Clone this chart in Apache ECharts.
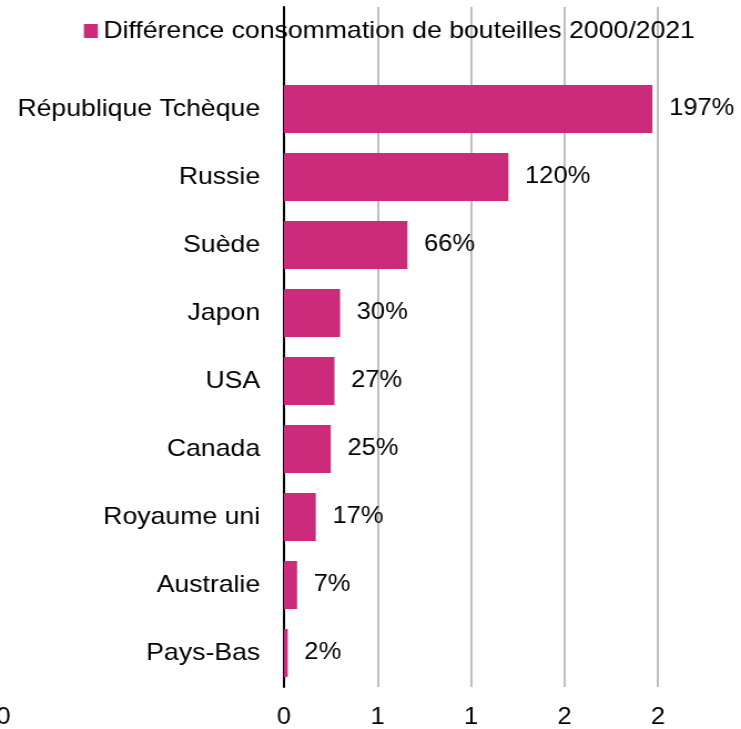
<!DOCTYPE html>
<html>
<head>
<meta charset="utf-8">
<script src="https://cdn.jsdelivr.net/npm/echarts@6/dist/echarts.min.js"></script>
<style>
  html, body { margin: 0; padding: 0; background: #fff; overflow: hidden; }
  /* the chart is drawn slightly narrower and widened to the full page width */
  #wrap { width: 741px; height: 729px; overflow: hidden; }
  #chart { width: 668px; height: 729px; transform: scaleX(1.1093); transform-origin: 0 0; }
</style>
</head>
<body>
<div id="wrap"><div id="chart"></div></div>
<script>
// Countries, listed from the bottom bar to the top bar
const countries = ['Pays-Bas', 'Australie', 'Royaume uni', 'Canada', 'USA', 'Japon', 'Suède', 'Russie', 'République Tchèque'];
// Change in bottle consumption 2000 -> 2021, as a ratio (1 = 100%)
const bottleChange = [0.02, 0.07, 0.17, 0.25, 0.27, 0.30, 0.66, 1.20, 1.97];
const seriesName = 'Différence consommation de bouteilles 2000/2021';

// Value axis ticks and the text printed under each of them
const xTicks = [-1.5, -1, -0.5, 0, 0.5, 1, 1.5, 2];
const xTickLabels = ['0', '', '', '0', '1', '1', '2', '2'];

const FONT = '"Liberation Sans", Arial, sans-serif';

function tickLabel(v) {
  const i = xTicks.findIndex(t => Math.abs(t - v) < 1e-9);
  return i >= 0 ? xTickLabels[i] : '';
}
const xLabelStyle = { fontFamily: FONT, fontSize: 23, color: '#000', margin: 19, showMinLabel: true, showMaxLabel: true, formatter: tickLabel };

const chart = echarts.init(document.getElementById('chart'), null, { renderer: 'canvas' });

chart.setOption({
  animation: false,
  backgroundColor: '#ffffff',
  textStyle: { fontFamily: FONT },
  legend: {
    left: 70.6,
    top: 14,
    itemWidth: 12.6,
    itemHeight: 14,
    icon: 'rect',
    textStyle: { fontFamily: FONT, fontSize: 24, color: '#000' },
    data: [seriesName]
  },
  grid: [
    // plot area holding the bars (value axis from 0)
    { left: 256, right: 74.8, top: 7, bottom: 42, outerBoundsMode: 'none' },
    // full-width value scale carrying the outermost tick label
    { left: 3.1, right: 74.8, top: 7, bottom: 42, outerBoundsMode: 'none' }
  ],
  xAxis: [
    {
      gridIndex: 0,
      type: 'value',
      min: 0,
      max: xTicks[xTicks.length - 1],
      interval: 0.5,
      axisLine: { show: false },
      axisTick: { show: false },
      axisLabel: xLabelStyle,
      splitLine: { show: true, lineStyle: { width: 2, color: '#bfbfbf' } }
    },
    {
      gridIndex: 1,
      type: 'value',
      min: xTicks[0],
      max: xTicks[xTicks.length - 1],
      interval: 0.5,
      axisLine: { show: false },
      axisTick: { show: false },
      splitLine: { show: false },
      axisLabel: Object.assign({}, xLabelStyle, {
        formatter: function (v) { return v < 0 ? tickLabel(v) : ''; }
      })
    }
  ],
  yAxis: [
    {
      gridIndex: 0,
      type: 'category',
      data: countries,
      max: countries.length,
      axisLine: { show: true, lineStyle: { color: '#000', width: 2 } },
      axisTick: { show: false },
      splitLine: { show: false },
      axisLabel: {
        fontFamily: FONT, fontSize: 24, color: '#000', margin: 21.5,
        formatter: function (v) { return (v === undefined || v === 'undefined') ? '' : v; }
      }
    },
    {
      gridIndex: 1,
      type: 'value',
      min: 0,
      max: 1,
      show: false
    }
  ],
  series: [{
    name: seriesName,
    type: 'bar',
    xAxisIndex: 0,
    yAxisIndex: 0,
    data: bottleChange,
    barWidth: 48,
    itemStyle: { color: '#CC2B7B' },
    label: {
      show: true,
      position: 'right',
      distance: 15,
      fontFamily: FONT,
      fontSize: 23,
      color: '#000',
      formatter: function (p) { return Math.round(p.value * 100) + '%'; }
    }
  }]
});
</script>
</body>
</html>
